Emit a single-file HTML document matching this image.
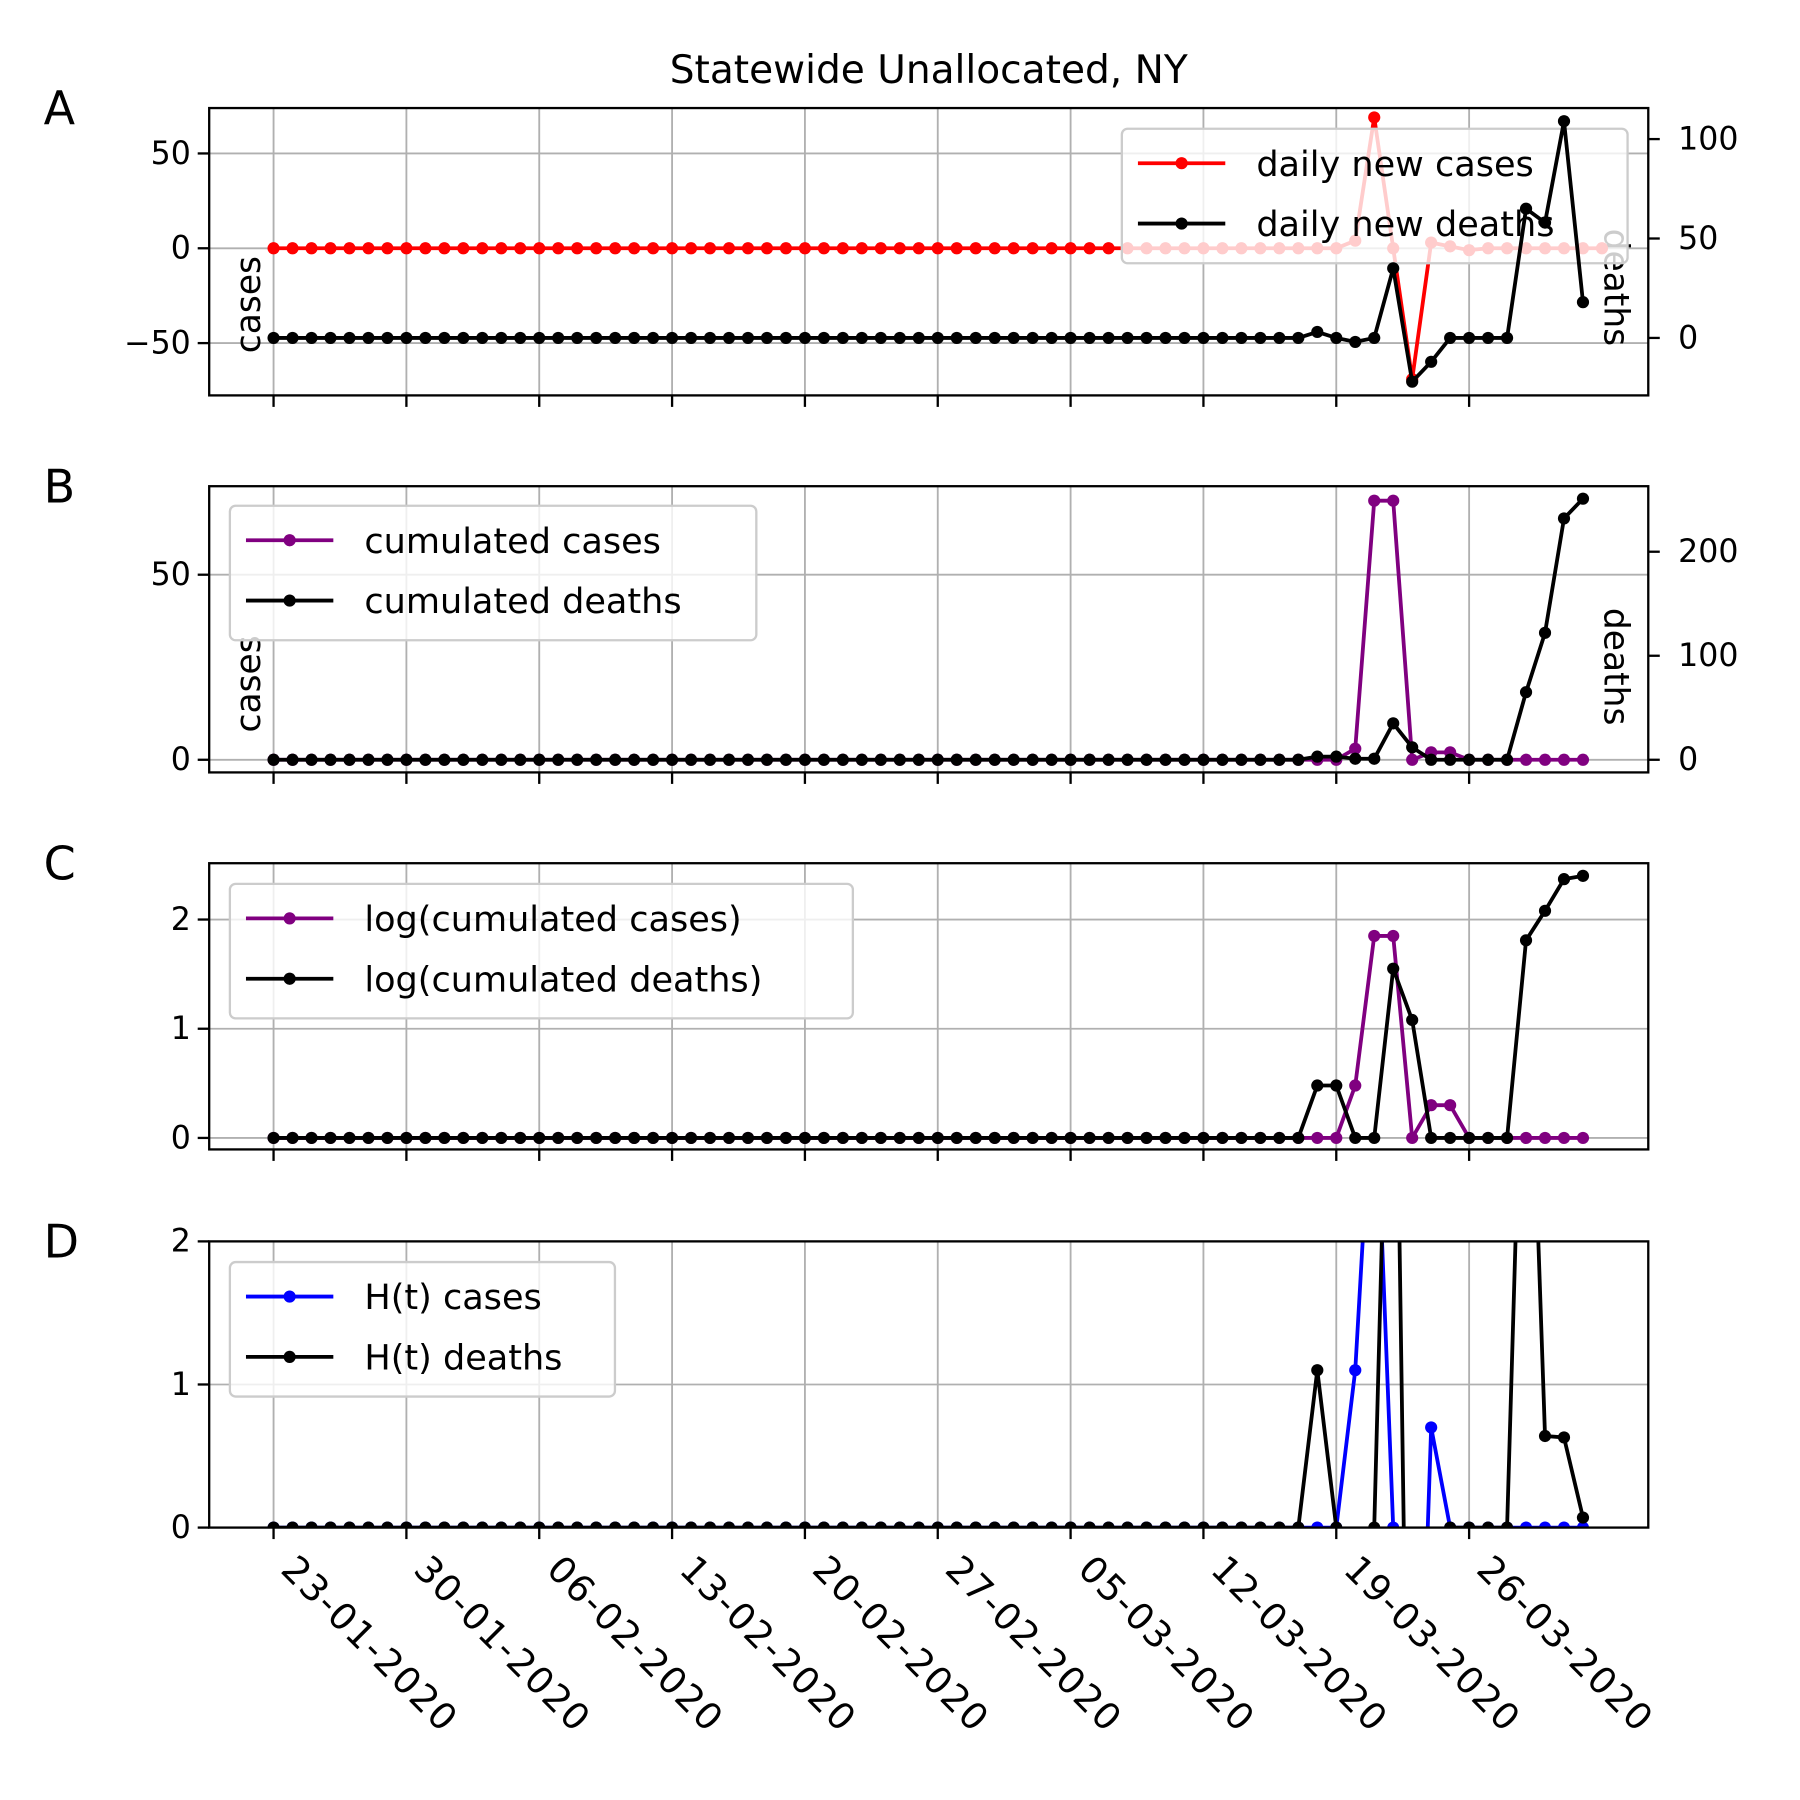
<!DOCTYPE html>
<html><head><meta charset="utf-8"><style>html,body{margin:0;padding:0;background:#fff;overflow:hidden;width:1800px;height:1800px}svg{display:block}text{font-family:"DejaVu Sans","Liberation Sans",sans-serif}</style></head>
<body>
<svg id="fig" xmlns="http://www.w3.org/2000/svg" width="1800" height="1800" viewBox="0 0 1566 1566"></svg>
<script>
const dateLabels = ["23-01-2020","30-01-2020","06-02-2020","13-02-2020","20-02-2020","27-02-2020","05-03-2020","12-03-2020","19-03-2020","26-03-2020"];
const z = n => Array(n).fill(0);
const newCases = z(57).concat([4,69,0,-69,3,1,-1,0,0,0,0,0,0,0]);
const newDeaths = z(55).concat([3,0,-2,0,35,-22,-12,0,0,0,0,65,58,109,18]);
const cumCases = z(57).concat([3,70,70,0,2,2,0,0,0,0,0,0,0]);
const cumDeaths = z(55).concat([3,3,1,1,35,12,0,0,0,0,0,65,122,232,251]);
const logCases = z(57).concat([0.48,1.85,1.85,0,0.3,0.3,0,0,0,0,0,0,0]);
const logDeaths = z(55).concat([0.48,0.48,0,0,1.55,1.08,0,0,0,0,0,1.81,2.08,2.37,2.4]);
const hCases = z(57).concat([1.1,3.4,0,-3.2,0.7,0,0,0,0,0,0,0,0]);
const hDeaths = z(55).concat([1.1,0,null,0,5,-4,null,0,0,0,0,4.5,0.64,0.63,0.07]);

const NS="http://www.w3.org/2000/svg";
const svg=document.getElementById('fig');
function mk(tag,attrs,parent){const e=document.createElementNS(NS,tag);for(const k in attrs)e.setAttribute(k,attrs[k]);(parent||svg).appendChild(e);return e;}
const L=182,R=1434;
const xS=d=>238+d*16.51;

const panels=[
 {id:'a',top:94,bot:344,letter:'A',ly:v=>216-v*1.65,lt:[50,0,-50],ltl:['50','0','\u221250'],ry:v=>294-v*1.73,rt:[100,50,0]},
 {id:'b',top:423,bot:672,letter:'B',ly:v=>661-v*3.22,lt:[50,0],ltl:['50','0'],ry:v=>661-v*0.905,rt:[200,100,0]},
 {id:'c',top:751,bot:1000,letter:'C',ly:v=>990-v*95,lt:[2,1,0],ltl:['2','1','0']},
 {id:'d',top:1080,bot:1329,letter:'D',ly:v=>1329-v*124.5,lt:[2,1,0],ltl:['2','1','0']}
];

let t=mk('text',{x:808,y:72,'font-size':34,'text-anchor':'middle'});t.textContent='Statewide Unallocated, NY';



function series(g,vals,yf,color,name,clip){
  const sg=mk('g',{'clip-path':'url(#'+clip+')'},g);
  
  
  let d='',pen=false;
  vals.forEach((v,i)=>{if(v===null){pen=false;return;}d+=(pen?'L':'M')+xS(i).toFixed(2)+' '+yf(v).toFixed(2)+' ';pen=true;});
  mk('path',{d:d,fill:'none',stroke:color,'stroke-width':3.3,'stroke-linejoin':'round'},sg);
  vals.forEach((v,i)=>{if(v===null)return;const c=mk('circle',{cx:xS(i),cy:yf(v),r:5.3,fill:color},sg);
    
    });
}
function legend(g,x,y,w,h,items){
  const lg=mk('g',{},g);
  
  
  mk('rect',{x:x,y:y,width:w,height:h,rx:5,fill:'#fff','fill-opacity':0.8,stroke:'#cccccc','stroke-width':2},lg);
  items.forEach((it,i)=>{const yy=y+30+i*52.5;
    const eg=mk('g',{},lg);
    
    
    mk('line',{x1:x+14,x2:x+90,y1:yy,y2:yy,stroke:it[1],'stroke-width':3.3},eg);
    mk('circle',{cx:x+52,cy:yy,r:5.3,fill:it[1]},eg);
    const tx=mk('text',{x:x+117,y:yy+11,'font-size':30.5},eg);tx.textContent=it[0];});
}
function ylabel(g,txt,x,y,rot){const e=mk('text',{x:0,y:0,'font-size':30,'text-anchor':'middle',transform:`translate(${x},${y}) rotate(${rot})`},g);e.textContent=txt;
  
  }

panels.forEach((p,pi)=>{
  const g=mk('g',{});
  
  
  const cp=mk('clipPath',{id:'clip'+p.id},g);mk('rect',{x:L,y:p.top,width:R-L,height:p.bot-p.top},cp);
  const lt=mk('text',{x:38,y:p.top+14,'font-size':40},g);lt.textContent=p.letter;
  
  
  const gg=mk('g',{stroke:'#b0b0b0','stroke-width':1.6},g);
  
  
  dateLabels.forEach((d,i)=>mk('line',{x1:xS(i*7),x2:xS(i*7),y1:p.top,y2:p.bot},gg));
  p.lt.forEach(v=>mk('line',{x1:L,x2:R,y1:p.ly(v),y2:p.ly(v)},gg));
  const tg=mk('g',{},g);
  
  
  dateLabels.forEach((d,i)=>{const x=xS(i*7);mk('line',{x1:x,x2:x,y1:p.bot,y2:p.bot+10,stroke:'#000','stroke-width':2},tg);
    if(pi===3){const e=mk('text',{x:0,y:0,'font-size':32,'letter-spacing':1.5,transform:`translate(${x+5},${p.bot+38}) rotate(45)`},tg);e.textContent=d;
      
      }});
  p.lt.forEach((v,i)=>{const y=p.ly(v);mk('line',{x1:L-10,x2:L,y1:y,y2:y,stroke:'#000','stroke-width':2},tg);
    const e=mk('text',{x:L-16,y:y+9,'font-size':27.5,'text-anchor':'end'},tg);e.textContent=p.ltl[i];});
  if(p.rt)p.rt.forEach(v=>{const y=p.ry(v);mk('line',{x1:R,x2:R+10,y1:y,y2:y,stroke:'#000','stroke-width':2},tg);
    const e=mk('text',{x:R+26,y:y+9,'font-size':27.5},tg);e.textContent=String(v);});
  const clip='clip'+p.id;
  if(pi===0){
    ylabel(g,'cases',226,265,-90);
    ylabel(g,'deaths',1396,250,90);
    series(g,newCases,p.ly,'#ff0000','daily-new-cases-series',clip);
    legend(g,976,112,440,117,[['daily new cases','#ff0000'],['daily new deaths','#000']]);
    series(g,newDeaths,p.ry,'#000','daily-new-deaths-series',clip);
  }else if(pi===1){
    ylabel(g,'cases',226,595,-90);
    ylabel(g,'deaths',1396,580,90);
    series(g,cumCases,p.ly,'#800080','cumulated-cases-series',clip);
    series(g,cumDeaths,p.ry,'#000','cumulated-deaths-series',clip);
    legend(g,200,440,458,117,[['cumulated cases','#800080'],['cumulated deaths','#000']]);
  }else if(pi===2){
    series(g,logCases,p.ly,'#800080','log-cumulated-cases-series',clip);
    series(g,logDeaths,p.ly,'#000','log-cumulated-deaths-series',clip);
    legend(g,200,769,542,117,[['log(cumulated cases)','#800080'],['log(cumulated deaths)','#000']]);
  }else{
    series(g,hCases,p.ly,'#0000ff','h-cases-series',clip);
    series(g,hDeaths,p.ly,'#000','h-deaths-series',clip);
    legend(g,200,1098,335,117,[['H(t) cases','#0000ff'],['H(t) deaths','#000']]);
  }
  const fr=mk('rect',{x:L,y:p.top,width:R-L,height:p.bot-p.top,fill:'none',stroke:'#000','stroke-width':2},g);
  
  
});
</script>
</body></html>
